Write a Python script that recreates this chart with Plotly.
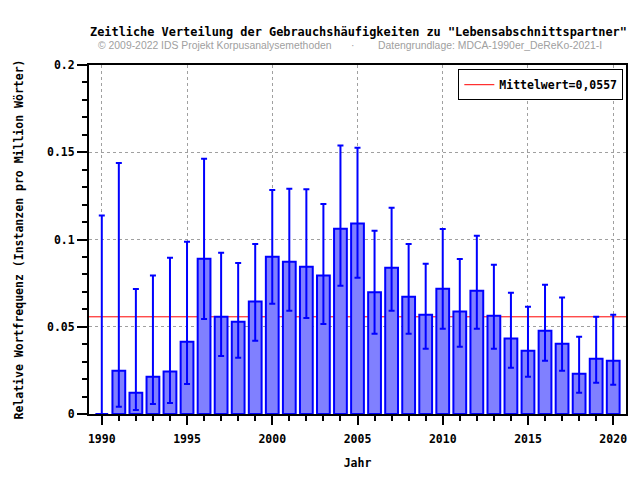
import plotly.graph_objects as go

years = list(range(1990, 2021))
values = [0.0, 0.0248, 0.0122, 0.0214, 0.0243, 0.0414, 0.0890, 0.0558, 0.0529, 0.0644,
          0.0901, 0.0873, 0.0844, 0.0793, 0.1062, 0.1091, 0.0697, 0.0838, 0.0672, 0.0569,
          0.0718, 0.0588, 0.0707, 0.0563, 0.0432, 0.0363, 0.0477, 0.0403, 0.0231, 0.0317,
          0.0305]
lower = [0.0, 0.0042, 0.0023, 0.0057, 0.0063, 0.0172, 0.0544, 0.0332, 0.0323, 0.0420,
         0.0632, 0.0592, 0.0550, 0.0516, 0.0735, 0.0781, 0.0460, 0.0592, 0.0460, 0.0374,
         0.0489, 0.0386, 0.0489, 0.0374, 0.0265, 0.0214, 0.0305, 0.0248, 0.0122, 0.0179,
         0.0168]
upper = [0.1137, 0.1438, 0.0716, 0.0793, 0.0896, 0.0987, 0.1463, 0.0924, 0.0865, 0.0974,
         0.1284, 0.1291, 0.1288, 0.1203, 0.1538, 0.1526, 0.1050, 0.1182, 0.0974, 0.0861,
         0.1060, 0.0888, 0.1022, 0.0856, 0.0695, 0.0615, 0.0741, 0.0667, 0.0443, 0.0558,
         0.0569]
mean_value = 0.0557
mean_label = "Mittelwert=0,0557"

title = 'Zeitliche Verteilung der Gebrauchshäufigkeiten zu "Lebensabschnittspartner"'
sub_left = "© 2009-2022 IDS Projekt Korpusanalysemethoden"
sub_right = "Datengrundlage: MDCA-1990er_DeReKo-2021-I"
x_title = "Jahr"
y_title = "Relative Wortfrequenz (Instanzen pro Million Wörter)"

MONO = "DejaVu Sans Mono"
xr = [1989.25, 2020.75]

fig = go.Figure()

# legend-only entry for mean line
fig.add_trace(go.Scatter(
    x=[None], y=[None], mode="lines", name=mean_label,
    line=dict(color="#ff0000", width=1), showlegend=True))

fig.add_trace(go.Bar(
    x=years, y=values, width=0.75, showlegend=False,
    marker=dict(color="#8080ff", line=dict(color="#0000ff", width=2)),
    error_y=dict(type="data", symmetric=False,
                 array=[u - v for u, v in zip(upper, values)],
                 arrayminus=[v - l for v, l in zip(values, lower)],
                 color="#0000ff", thickness=2, width=3),
))

fig.add_shape(type="line", xref="x", yref="y", x0=xr[0], x1=xr[1],
              y0=mean_value, y1=mean_value, layer="between",
              line=dict(color="#ff0000", width=1))

fig.add_annotation(text=title, xref="paper", yref="paper", x=0.501, y=1.0945,
                   xanchor="center", yanchor="middle", showarrow=False,
                   font=dict(family=MONO, size=11.9, color="black", weight="bold"))
fig.add_annotation(text=sub_left, xref="paper", yref="paper", x=0.013, y=1.055,
                   xanchor="left", yanchor="middle", showarrow=False,
                   font=dict(family="Liberation Sans", size=10.4, color="#a0a0a0"))
fig.add_annotation(text="·", xref="paper", yref="paper", x=0.490, y=1.055,
                   xanchor="center", yanchor="middle", showarrow=False,
                   font=dict(family="Liberation Sans", size=10.4, color="#a0a0a0"))
fig.add_annotation(text=sub_right, xref="paper", yref="paper", x=0.534, y=1.055,
                   xanchor="left", yanchor="middle", showarrow=False,
                   font=dict(family="Liberation Sans", size=10.4, color="#a0a0a0"))

axis_font = dict(family=MONO, size=11.5, color="black", weight="bold")

fig.update_xaxes(
    range=xr, tick0=1990, dtick=5, ticks="outside", ticklen=9, tickwidth=2,
    tickcolor="black", showline=True, linecolor="black", linewidth=2, mirror=True,
    showgrid=True, gridcolor="#a0a0a0", griddash="dot", gridwidth=1,
    zeroline=False, tickfont=axis_font, ticklabelstandoff=4,
    minor=dict(dtick=1, tick0=1990, ticks="outside", ticklen=5, tickwidth=2,
               tickcolor="black", showgrid=False),
    title=dict(text=x_title, font=axis_font, standoff=14),
)
fig.update_yaxes(
    range=[0, 0.2], tick0=0, dtick=0.05, ticks="outside", ticklen=10, tickwidth=2,
    tickcolor="black", showline=True, linecolor="black", linewidth=2, mirror=True,
    showgrid=True, gridcolor="#a0a0a0", griddash="dot", gridwidth=1,
    zeroline=False, tickfont=axis_font,
    minor=dict(dtick=0.01, tick0=0, ticks="outside", ticklen=5, tickwidth=2,
               tickcolor="black", showgrid=False),
    title=dict(text=y_title, font=axis_font, standoff=21),
)

# page body adds an 8px offset; the figure is sized so the plot lands where the reference has it
fig.update_layout(
    width=632, height=472,
    margin=dict(l=81, r=14, t=57, b=66, autoexpand=False),
    paper_bgcolor="white", plot_bgcolor="white",
    legend=dict(x=0.995, y=0.988, xanchor="right", yanchor="top",
                bordercolor="black", borderwidth=1, bgcolor="white",
                font=axis_font),
)

fig.write_html("out.html")
